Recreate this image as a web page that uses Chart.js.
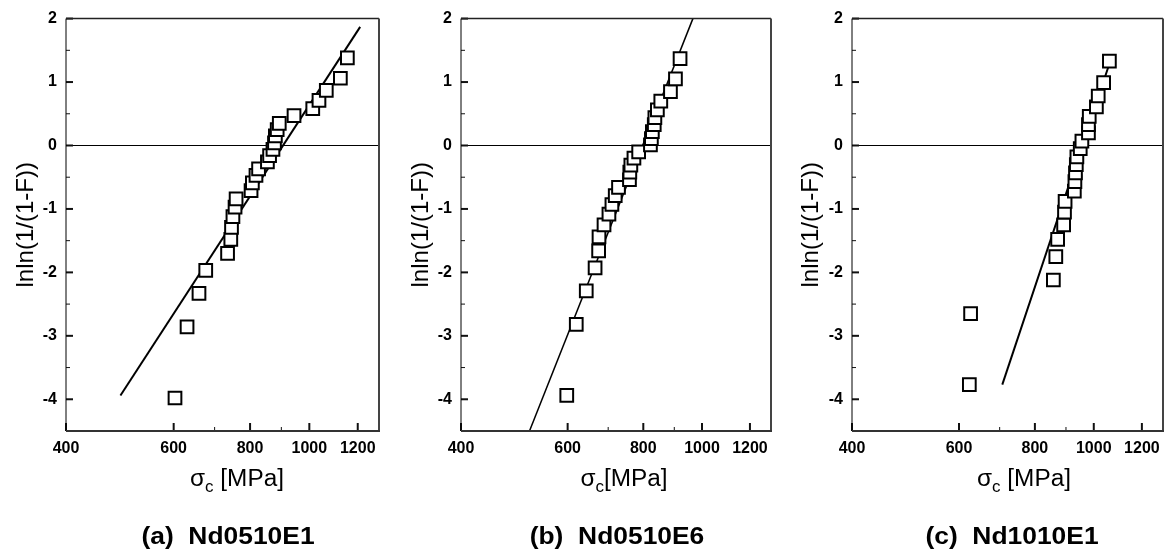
<!DOCTYPE html>
<html>
<head>
<meta charset="utf-8">
<script src="https://cdn.jsdelivr.net/npm/chart.js@4.4.1/dist/chart.umd.min.js"></script>
<style>
  html, body { margin: 0; padding: 0; background: #fff; width: 1169px; height: 553px; overflow: hidden; }
  .panel { position: absolute; top: 0; width: 390px; height: 553px; }
</style>
</head>
<body>
<div class="panel" style="left:0px"><canvas id="chartA" width="390" height="553"></canvas></div>
<div class="panel" style="left:392px"><canvas id="chartB" width="390" height="553"></canvas></div>
<div class="panel" style="left:784px"><canvas id="chartC" width="390" height="553"></canvas></div>
<script>
// axis ticks
const xTicks = [400, 600, 800, 1000, 1200];
const xMinorTicks = [700, 900];
const yTicks = [-4, -3, -2, -1, 0, 1, 2];
const yMinorTicks = [-3.5, -2.5, -1.5, -0.5, 0.5, 1.5];

// (a) Nd0510E1
const stressA = [603, 631, 660, 677, 735, 744, 746, 750, 756, 759, 803, 807, 818, 826, 854, 861, 872, 877, 880, 886, 893, 944, 1013, 1037, 1066, 1124, 1154];
const weibullA = [-3.98, -2.86, -2.33, -1.97, -1.70, -1.48, -1.29, -1.12, -0.97, -0.84, -0.71, -0.59, -0.47, -0.37, -0.26, -0.16, -0.06, 0.04, 0.15, 0.25, 0.35, 0.47, 0.58, 0.71, 0.87, 1.06, 1.38];
const fitStressA = [491, 1211];
const fitWeibullA = [-3.94, 1.87];

// (b) Nd0510E6
const stressB = [598, 620, 644, 666, 675, 676, 689, 702, 710, 719, 728, 759, 760, 763, 772, 786, 822, 825, 828, 834, 836, 844, 855, 887, 904, 920];
const weibullB = [-3.94, -2.82, -2.29, -1.93, -1.66, -1.44, -1.25, -1.08, -0.93, -0.79, -0.66, -0.54, -0.42, -0.31, -0.20, -0.10, 0.01, 0.11, 0.22, 0.33, 0.44, 0.56, 0.70, 0.85, 1.05, 1.37];
const fitStressB = [519, 966];
const fitWeibullB = [-4.5, 2.0];

// (c) Nd1010E1
const stressC = [624, 627, 858, 866, 872, 892, 895, 897, 929, 931, 933, 936, 938, 950, 956, 980, 980, 983, 1010, 1017, 1038, 1061];
const weibullC = [-3.77, -2.65, -2.12, -1.75, -1.48, -1.25, -1.05, -0.88, -0.72, -0.57, -0.43, -0.30, -0.18, -0.05, 0.07, 0.20, 0.33, 0.46, 0.61, 0.78, 0.99, 1.33];
const fitStressC = [707, 1062];
const fitWeibullC = [-3.77, 1.3];

const FONT = '"Liberation Sans", Arial, sans-serif';

const pairs = (xs, ys) => xs.map((v, i) => ({ x: v, y: ys[i] }));

// frame, inward ticks and the titles
const decor = {
    id: 'decor',
    afterDraw(chart, args, opts) {
        const { ctx, chartArea: a, scales: { x, y } } = chart;
        ctx.save();
        const seg = (x1, y1, x2, y2, w, c) => {
            ctx.beginPath();
            ctx.lineWidth = w;
            ctx.strokeStyle = c;
            ctx.moveTo(x1, y1);
            ctx.lineTo(x2, y2);
            ctx.stroke();
        };
        yTicks.forEach(v => { const p = y.getPixelForValue(v); seg(a.left, p, a.left + 7, p, 2, '#111'); });
        yMinorTicks.forEach(v => { const p = y.getPixelForValue(v); seg(a.left, p, a.left + 4, p, 1, '#111'); });
        xTicks.forEach(v => { const p = x.getPixelForValue(v); seg(p, a.bottom, p, a.bottom - 8, 2, '#111'); });
        xMinorTicks.forEach(v => { const p = x.getPixelForValue(v); seg(p, a.bottom, p, a.bottom - 4, 1, '#111'); });

        seg(a.left, a.top, a.left, a.bottom, 1, '#000');
        seg(a.left, a.top, a.right, a.top, 1.5, '#222');
        seg(a.right, a.top, a.right, a.bottom + 1, 2, '#444');
        seg(a.left, a.bottom, a.right + 1, a.bottom, 2, '#333');

        ctx.fillStyle = '#000';
        // y title
        ctx.save();
        ctx.translate(opts.yTitleX, (a.top + a.bottom) / 2);
        ctx.rotate(-Math.PI / 2);
        ctx.font = '24px ' + FONT;
        ctx.textAlign = 'center';
        ctx.textBaseline = 'middle';
        ctx.fillText('lnln(1/(1-F))', 0, 0);
        ctx.restore();

        // x title: sigma with subscript c
        const big = '23px ' + FONT, small = '16px ' + FONT;
        ctx.save();
        ctx.translate(opts.xTitleX, 486);
        ctx.scale(1.06, 1);
        ctx.textAlign = 'left';
        ctx.textBaseline = 'alphabetic';
        ctx.font = big;
        const w1 = ctx.measureText('σ').width;
        const w3 = ctx.measureText(opts.unit).width;
        ctx.font = small;
        const w2 = ctx.measureText('c').width;
        const tx = -(w1 + w2 + w3) / 2;
        ctx.font = big;
        ctx.fillText('σ', tx, 0);
        ctx.font = small;
        ctx.fillText('c', tx + w1, 6);
        ctx.font = big;
        ctx.fillText(opts.unit, tx + w1 + w2, 0);
        ctx.restore();

        // caption
        ctx.save();
        ctx.translate(opts.captionX, 537);
        ctx.scale(1.1, 1);
        ctx.font = 'bold 24px ' + FONT;
        ctx.textAlign = 'center';
        ctx.textBaseline = 'middle';
        ctx.fillText(opts.caption, 0, 0);
        ctx.restore();
        ctx.restore();
    }
};

function makePanel(id, stress, weibull, fitStress, fitWeibull, leftWidth, fitWidth, extra) {
    const ctx = document.getElementById(id).getContext('2d');
    return new Chart(ctx, {
        type: 'scatter',
        data: {
            datasets: [
                {
                    data: pairs(fitStress, fitWeibull),
                    showLine: true,
                    borderColor: '#000',
                    borderWidth: fitWidth,
                    pointRadius: 0,
                    order: 2
                },
                {
                    data: pairs(stress, weibull),
                    pointStyle: 'rect',
                    pointRadius: 9,
                    borderColor: '#000',
                    backgroundColor: '#fff',
                    borderWidth: 2,
                    order: 1
                }
            ]
        },
        options: {
            responsive: false,
            animation: false,
            layout: { padding: { top: 14, right: 2, left: 0, bottom: 0 } },
            plugins: {
                legend: { display: false },
                tooltip: { enabled: false },
                decor: extra
            },
            scales: {
                x: {
                    type: 'logarithmic',
                    min: 400,
                    max: 1300,
                    afterBuildTicks: s => { s.ticks = xTicks.map(v => ({ value: v })); },
                    afterFit: s => { s.height = 122; },
                    grid: { display: false, drawTicks: false },
                    border: { display: false },
                    ticks: {
                        callback: v => String(v),
                        color: '#000',
                        font: { family: FONT, size: 16, weight: 'bold' },
                        padding: 8,
                        maxRotation: 0,
                        autoSkip: false
                    }
                },
                y: {
                    min: -4.5,
                    max: 2,
                    afterBuildTicks: s => { s.ticks = yTicks.map(v => ({ value: v })); },
                    afterFit: s => { s.width = leftWidth; },
                    grid: {
                        color: c => (c.tick && c.tick.value === 0 ? '#000' : 'rgba(0,0,0,0)'),
                        lineWidth: 1,
                        drawTicks: false
                    },
                    border: { display: false },
                    ticks: {
                        callback: v => String(v),
                        color: '#000',
                        font: { family: FONT, size: 16, weight: 'bold' },
                        padding: 9
                    }
                }
            }
        },
        plugins: [decor]
    });
}

makePanel('chartA', stressA, weibullA, fitStressA, fitWeibullA, 66, 2,
    { yTitleX: 26, xTitleX: 237, unit: ' [MPa]', caption: '(a)  Nd0510E1', captionX: 228 });
makePanel('chartB', stressB, weibullB, fitStressB, fitWeibullB, 69, 1.5,
    { yTitleX: 29, xTitleX: 232, unit: '[MPa]', caption: '(b)  Nd0510E6', captionX: 225 });
makePanel('chartC', stressC, weibullC, fitStressC, fitWeibullC, 68, 2,
    { yTitleX: 27, xTitleX: 240, unit: ' [MPa]', caption: '(c)  Nd1010E1', captionX: 228 });
</script>
</body>
</html>
